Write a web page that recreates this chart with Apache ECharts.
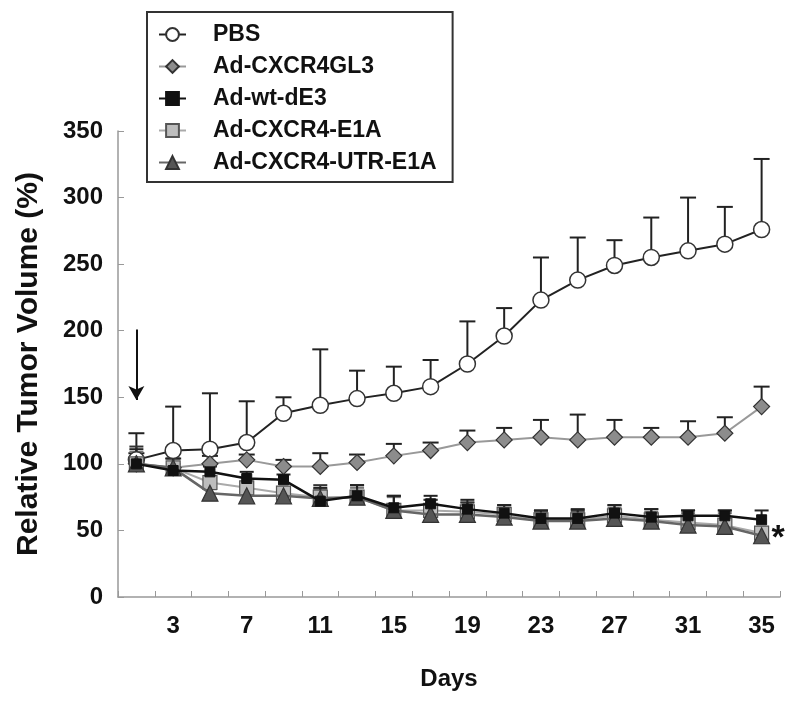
<!DOCTYPE html>
<html>
<head>
<meta charset="utf-8">
<script src="https://cdn.jsdelivr.net/npm/echarts@6/dist/echarts.min.js"></script>
<style>
html,body{margin:0;padding:0;background:#fff;}
#chart{width:800px;height:701px;}
</style>
</head>
<body>
<div id="chart"></div>
<script>
var days = ['1','3','5','7','9','11','13','15','17','19','21','23','25','27','29','31','33','35'];
var yTicks = [0, 50, 100, 150, 200, 250, 300, 350];
var seriesNames = ['PBS', 'Ad-CXCR4GL3', 'Ad-wt-dE3', 'Ad-CXCR4-E1A', 'Ad-CXCR4-UTR-E1A'];

var pbs     = [103, 110, 111, 116, 138, 144, 149, 153, 158, 175, 196, 223, 238, 249, 255, 260, 265, 276];
var pbsErr  = [20, 33, 42, 31, 12, 42, 21, 20, 20, 32, 21, 32, 32, 19, 30, 40, 28, 53];
var gl3     = [100, 97, 100, 103, 98, 98, 101, 106, 110, 116, 118, 120, 118, 120, 120, 120, 123, 143];
var gl3Err  = [8, 7, 6, 4, 5, 10, 6, 9, 6, 9, 9, 13, 19, 13, 7, 12, 12, 15];
var wt      = [100, 95, 94, 89, 88, 72, 76, 67, 70, 66, 63, 59, 59, 63, 60, 61, 61, 58];
var wtErr   = [11, 9, 4, 5, 4, 10, 8, 9, 6, 7, 6, 6, 7, 6, 6, 4, 4, 7];
var e1a     = [100, 97, 86, 82, 78, 75, 75, 65, 65, 64, 62, 58, 58, 61, 58, 56, 54, 48];
var e1aErr  = [9, 3, 3, 4, 3, 6, 7, 10, 8, 7, 5, 6, 6, 6, 6, 7, 9, 4];
var utr     = [100, 97, 78, 76, 76, 74, 75, 65, 62, 62, 60, 57, 57, 59, 57, 54, 53, 46];
var utrErr  = [13, 3, 3, 3, 3, 10, 9, 11, 11, 9, 9, 8, 8, 10, 9, 11, 12, 4];

var FONT = '"Liberation Sans", Arial, Helvetica, sans-serif';

function errSeries(name, means, errs, color, capW, z) {
  var data = means.map(function (m, i) { return [i, m, m + errs[i]]; });
  return {
    type: 'custom',
    name: name + ' err',
    z: z,
    silent: true,
    data: data,
    renderItem: function (params, api) {
      var p0 = api.coord([api.value(0), api.value(1)]);
      var p1 = api.coord([api.value(0), api.value(2)]);
      var style = { stroke: color, lineWidth: 2, fill: null };
      return {
        type: 'group',
        children: [
          { type: 'line', shape: { x1: p0[0], y1: p0[1], x2: p1[0], y2: p1[1] }, style: style },
          { type: 'line', shape: { x1: p1[0] - capW / 2, y1: p1[1], x2: p1[0] + capW / 2, y2: p1[1] }, style: style }
        ]
      };
    }
  };
}

var chart = echarts.init(document.getElementById('chart'), null, { renderer: 'canvas' });

var option = {
  backgroundColor: '#fff',
  animation: false,
  grid: { left: 118, right: 20, top: 131, bottom: 104, containLabel: false },
  legend: {
    orient: 'vertical',
    left: 147,
    top: 12,
    padding: [11, 16, 8, 11],
    itemGap: 9,
    itemWidth: 27,
    itemHeight: 16,
    borderColor: '#333',
    borderWidth: 2,
    data: seriesNames,
    textStyle: { fontFamily: FONT, fontWeight: 'bold', fontSize: 23, color: '#111', padding: [0, 0, 0, 22] }
  },
  xAxis: {
    type: 'category',
    data: days,
    boundaryGap: true,
    name: 'Days',
    nameLocation: 'middle',
    nameGap: 70,
    nameTextStyle: { fontFamily: FONT, fontWeight: 'bold', fontSize: 24, color: '#111' },
    axisLine: { lineStyle: { color: '#999', width: 1.5 } },
    axisTick: { show: true, inside: true, length: 6, interval: 0, lineStyle: { color: '#999' } },
    axisLabel: {
      interval: function (index) { return index % 2 === 1; },
      margin: 17,
      fontFamily: FONT, fontWeight: 'bold', fontSize: 24, color: '#111'
    },
    splitLine: { show: false }
  },
  yAxis: {
    type: 'value',
    min: yTicks[0],
    max: yTicks[yTicks.length - 1],
    interval: 50,
    name: 'Relative Tumor Volume (%)',
    nameLocation: 'middle',
    nameGap: 74,
    nameTextStyle: { fontFamily: FONT, fontWeight: 'bold', fontSize: 30, color: '#111' },
    axisLine: { show: true, lineStyle: { color: '#999', width: 1.5 } },
    axisTick: { show: true, inside: true, length: 6, lineStyle: { color: '#999' } },
    axisLabel: { margin: 15, fontFamily: FONT, fontWeight: 'bold', fontSize: 24, color: '#111' },
    splitLine: { show: false }
  },
  series: [
    errSeries('PBS', pbs, pbsErr, '#222', 16, 1),
    errSeries('GL3', gl3, gl3Err, '#222', 16, 1),
    errSeries('E1A', e1a, e1aErr, '#777', 14, 1),
    errSeries('UTR', utr, utrErr, '#333', 14, 1),
    errSeries('WT', wt, wtErr, '#222', 14, 1),
    {
      name: 'PBS', type: 'line', data: pbs, z: 5,
      symbol: 'circle', symbolSize: 16,
      lineStyle: { color: '#222', width: 2 },
      itemStyle: { color: '#fff', borderColor: '#333', borderWidth: 1.5 },
      markLine: {
        silent: true,
        symbol: ['none', 'arrow'],
        symbolSize: [12, 14],
        label: { show: false },
        lineStyle: { color: '#111', width: 2, type: 'solid' },
        data: [[{ coord: ['1', 201] }, { coord: ['1', 148] }]]
      }
    },
    {
      name: 'Ad-CXCR4GL3', type: 'line', data: gl3, z: 5,
      symbol: 'diamond', symbolSize: 16,
      lineStyle: { color: '#999', width: 2 },
      itemStyle: { color: '#8c8c8c', borderColor: '#333', borderWidth: 1.2 }
    },
    {
      name: 'Ad-CXCR4-E1A', type: 'line', data: e1a, z: 6,
      symbol: 'rect', symbolSize: 14,
      lineStyle: { color: '#aaa', width: 2 },
      itemStyle: { color: '#bdbdbd', borderColor: '#555', borderWidth: 1.2 }
    },
    {
      name: 'Ad-CXCR4-UTR-E1A', type: 'line', data: utr, z: 7,
      symbol: 'triangle', symbolSize: 16,
      lineStyle: { color: '#666', width: 2.5 },
      itemStyle: { color: '#555', borderColor: '#333', borderWidth: 1.2 },
      markPoint: {
        silent: true,
        symbol: 'circle',
        symbolSize: 0,
        data: [{ coord: ['35', 48] }],
        label: { show: true, formatter: '*', position: 'right', distance: 10, offset: [0, 6], fontFamily: FONT, fontWeight: 'bold', fontSize: 34, color: '#111' }
      }
    },
    {
      name: 'Ad-wt-dE3', type: 'line', data: wt, z: 8,
      symbol: 'rect', symbolSize: 10,
      lineStyle: { color: '#111', width: 2.5 },
      itemStyle: { color: '#111', borderColor: '#111', borderWidth: 1 }
    }
  ]
};
chart.setOption(option);
</script>
</body>
</html>
